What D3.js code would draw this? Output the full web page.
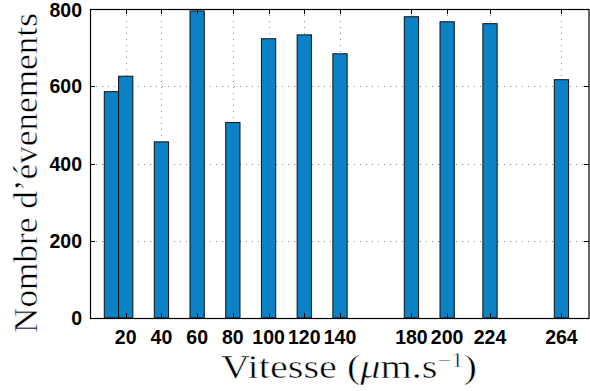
<!DOCTYPE html>
<html>
<head>
<meta charset="utf-8">
<script src="https://cdn.jsdelivr.net/npm/d3@7"></script>
<style>
  html, body { margin: 0; padding: 0; background: #fff; }
  svg { display: block; }
</style>
</head>
<body>
<svg id="chart" width="590" height="391"></svg>
<script>
// ---- data ----
const speeds = [12, 20, 40, 60, 80, 100, 120, 140, 180, 200, 224, 264];
const counts = [586, 626, 456, 795, 506, 723, 733, 684, 780, 767, 762, 617];
const xTickValues = [20, 40, 60, 80, 100, 120, 140, 180, 200, 224, 264];
const yTickValues = [0, 200, 400, 600, 800];
const xLabel = "Vitesse";
const yLabel = "Nombre d\u2019\u00e9venements";

(function () {
// ---- layout ----
const svg = d3.select("#chart");
const pLeft = 90, pRight = 590, pTop = 9, pBottom = 318;
const x = d3.scaleLinear().domain([0, 280]).range([pLeft, pRight]);
const y = d3.scaleLinear().domain([0, 800]).range([pBottom, pTop]);
const barWidthUnits = 8;
const gridColor = "#8a8a8a";
const tickLen = 5;

// grid
const grid = svg.append("g");
grid.selectAll("line.vg").data(xTickValues).join("line")
  .attr("x1", d => Math.round(x(d)) + 0.5).attr("x2", d => Math.round(x(d)) + 0.5)
  .attr("y1", pTop).attr("y2", pBottom)
  .attr("stroke", gridColor).attr("stroke-width", 1).attr("stroke-dasharray", "1,5");
grid.selectAll("line.hg").data(yTickValues.filter(d => d > 0 && d < 800)).join("line")
  .attr("x1", pLeft).attr("x2", pRight)
  .attr("y1", d => Math.round(y(d)) + 0.5).attr("y2", d => Math.round(y(d)) + 0.5)
  .attr("stroke", gridColor).attr("stroke-width", 1).attr("stroke-dasharray", "1,5");

// bars
const data = speeds.map((s, i) => ({ s, v: counts[i] }));
svg.append("g").selectAll("rect").data(data).join("rect")
  .attr("x", d => x(d.s - barWidthUnits / 2))
  .attr("width", d => x(barWidthUnits) - x(0))
  .attr("y", d => y(d.v))
  .attr("height", d => y(0) - y(d.v))
  .attr("fill", "#0b82c6")
  .attr("stroke", "#111")
  .attr("stroke-width", 1);

// ticks (inward, both sides)
const ticks = svg.append("g").attr("stroke", "#000").attr("stroke-width", 1);
xTickValues.forEach(d => {
  const xx = Math.round(x(d)) + 0.5;
  ticks.append("line").attr("x1", xx).attr("x2", xx).attr("y1", pBottom).attr("y2", pBottom - tickLen);
  ticks.append("line").attr("x1", xx).attr("x2", xx).attr("y1", pTop).attr("y2", pTop + tickLen);
});
yTickValues.forEach(d => {
  const yy = Math.round(y(d)) + 0.5;
  ticks.append("line").attr("x1", pLeft).attr("x2", pLeft + tickLen).attr("y1", yy).attr("y2", yy);
  ticks.append("line").attr("x1", pRight - 1).attr("x2", pRight - 1 - tickLen).attr("y1", yy).attr("y2", yy);
});

// box
svg.append("rect")
  .attr("x", pLeft + 0.5).attr("y", pTop + 0.5)
  .attr("width", pRight - pLeft - 1.5).attr("height", pBottom - pTop)
  .attr("fill", "none").attr("stroke", "#000").attr("stroke-width", 1.2);

// tick labels
const tickFont = "'Liberation Sans', Arial, Helvetica, sans-serif";
svg.append("g").selectAll("text").data(xTickValues).join("text")
  .attr("x", d => x(d)).attr("y", 344)
  .attr("text-anchor", "middle")
  .attr("font-family", tickFont).attr("font-weight", "bold").attr("font-size", 19.5)
  .attr("fill", "#000")
  .text(d => d);
svg.append("g").selectAll("text").data(yTickValues).join("text")
  .attr("x", 82).attr("y", d => Math.max(y(d) + 7, 16.5))
  .attr("text-anchor", "end")
  .attr("font-family", tickFont).attr("font-weight", "bold").attr("font-size", 19.5)
  .attr("fill", "#000")
  .text(d => d);

// axis labels (LaTeX-like serif)
const serif = "'Liberation Serif', 'DejaVu Serif', serif";
const xl = svg.append("text")
  .attr("font-family", serif).attr("font-size", 33).attr("fill", "#000")
  .attr("stroke", "#fff").attr("stroke-width", 0.5);
xl.append("tspan").text(xLabel + " (");
xl.append("tspan").attr("font-style", "italic").text("\u03bc");
xl.append("tspan").text("m.s");
xl.append("tspan").attr("font-size", 20).attr("dy", -11).text("\u22121");
xl.append("tspan").attr("dy", 11).text(")");
{
  const w = xl.node().getBBox().width;
  const sx = (477 - 221) / w;
  xl.attr("transform", `translate(221,378) scale(${sx},1)`);
}

const yl = svg.append("text")
  .attr("font-family", serif).attr("font-size", 33).attr("fill", "#000")
  .attr("stroke", "#fff").attr("stroke-width", 0.5)
  .text(yLabel);
{
  const w = yl.node().getBBox().width;
  const sx = (333 - 13) / w;
  yl.attr("transform", `translate(37,333) rotate(-90) scale(${sx},1)`);
}
})();
</script>
</body>
</html>
